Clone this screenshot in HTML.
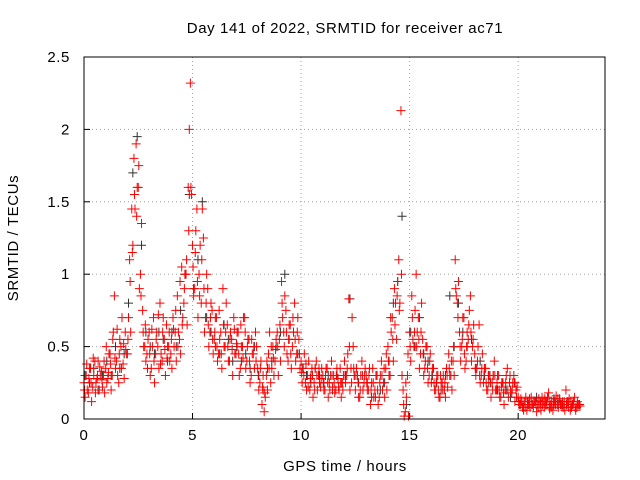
<!DOCTYPE html>
<html><head><meta charset="utf-8"><style>
body{margin:0;background:#fff;}
svg{display:block;font-family:"Liberation Sans",sans-serif;}
svg text{letter-spacing:0.6px;}
</style></head><body>
<svg id="chart" width="640" height="480">
<text x="345" y="33" font-size="15" text-anchor="middle">Day 141 of 2022, SRMTID for receiver ac71</text>
<text x="345" y="471" font-size="15" text-anchor="middle">GPS time / hours</text>
<text transform="translate(18,238) rotate(-90)" font-size="15" text-anchor="middle">SRMTID / TECUs</text>
<g id="grid"></g>
<g id="ticks"></g>
<g id="marks"></g>
<rect x="84" y="57" width="521" height="362" fill="none" stroke="#000" stroke-width="1"/>
</svg>
<script>
const xTicks=[0,5,10,15,20];
const yTicks=[0,0.5,1,1.5,2,2.5];
const yTickLabels=["0","0.5","1","1.5","2","2.5"];
const tStep=0.1;
const redA=[.25,.3,.18,.35,.22,.4,.28,.2,.33,.3, .35,.28,.45,.3,.85,.4,.25,.5,.38,.6, .45,1.1,1.45,1.8,1.9,1.6,1.0,.75,.5,.45, .6,.35,.7,.45,.5,.8,.4,.55,.65,.5, .45,.7,.6,.85,.55,1.05,.8,1.0,1.6,2.32, 1.2,.9,1.45,1.0,.8,1.25,.7,.9,.6,.75, .55,.7,.45,.6,.9,.5,.65,.4,.55,.7, .45,.6,.35,.5,.7,.4,.55,.3,.45,.6, .35,.25,.1,.05,.3,.45,.25,.5,.4,.6, .55,.95,.6,.75,.4,.65,.5,.8,.45,.55, .4,.35,.25,.3,.2,.35,.25,.4,.3,.22, .3,.2,.35,.25,.4,.3,.2,.28,.35,.25, .4,.3,.83,.35,.5,.2,.3,.15,.4,.25, .3,.2,.1,.35,.2,.3,.15,.4,.25,.35, .5,.3,.7,.9,.55,1.1,2.13,.2,.05,.3, .6,.85,.5,1.0,.7,.45,.55,.35,.5,.3, .25,.35,.2,.3,.15,.25,.2,.35,.45,.3, .4,1.1,.8,.6,.5,.7,.4,.55,.85,.5, .45,.35,.65,.3,.25,.35,.2,.3,.25,.4, .2,.3,.15,.25,.2,.35,.25,.18,.3,.2, .15,.1,.08,.12,.06,.1,.15,.08,.12,.1, .1,.15,.08,.12,.18,.1,.06,.12,.1,.14, .1,.08,.2,.12,.06,.1,.15,.08,.1];
const redB=[.15,.2,.35,.12,.3,.25,.4,.3,.22,.18, .25,.45,.2,.6,.35,.3,.55,.7,.28,.45, .7,.6,1.2,1.45,1.6,.9,1.35,.5,.4,.55, .3,.5,.25,.6,.35,.45,.7,.3,.5,.4, .35,.5,.4,.6,.45,.7,1.0,.65,2.0,1.55, .85,1.3,.7,1.2,1.45,.6,1.0,.5,.8,.45, .7,.4,.55,.35,.5,.8,.4,.6,.3,.45, .6,.3,.5,.7,.35,.55,.25,.45,.35,.5, .2,.4,.3,.15,.2,.6,.35,.3,.55,.3, .4,.7,.85,.45,.65,.35,.6,.4,.7,.35, .25,.45,.2,.4,.3,.15,.35,.2,.25,.35, .2,.35,.15,.3,.22,.18,.35,.2,.15,.3, .25,.45,.2,.7,.3,.35,.15,.3,.2,.35, .2,.35,.25,.15,.3,.1,.3,.2,.15,.2, .3,.6,.4,.8,.95,.8,.3,.02,.15,.02, .4,.55,.75,.6,.35,.8,.3,.5,.25,.45, .35,.2,.3,.15,.25,.3,.15,.22,.3,.2, .3,.85,.95,.4,.7,.35,.6,.75,.4,.65, .3,.5,.25,.45,.35,.2,.3,.15,.3,.2, .3,.15,.25,.1,.3,.15,.2,.25,.12,.22, .1,.12,.06,.15,.1,.08,.1,.12,.05,.14, .06,.12,.1,.15,.07,.12,.1,.16,.08,.1, .12,.06,.1,.14,.08,.12,.06,.1,.09];
const redC=[.2,.38,.28,.25,.42,.18,.3,.36,.27,.4, .5,.32,.38,.55,.42,.62,.45,.35,.52,.48, .55,.95,1.15,1.55,1.4,1.75,.85,.6,.65,.35, .45,.62,.4,.55,.72,.38,.6,.48,.42,.6, .55,.62,.75,.5,.95,.65,.9,1.1,1.3,1.6, 1.05,1.15,.95,.85,1.1,.9,.8,.65,.7,.55, .6,.5,.75,.45,.65,.6,.5,.55,.48,.62, .52,.45,.65,.42,.6,.5,.4,.55,.5,.4, .3,.35,.22,.18,.4,.35,.5,.42,.48,.5, .65,.8,.5,.6,.55,.45,.7,.55,.6,.45, .32,.3,.38,.22,.28,.3,.2,.3,.35,.28, .25,.3,.25,.2,.3,.25,.3,.22,.25,.2, .3,.35,.5,.25,.35,.3,.25,.2,.3,.3, .25,.3,.2,.25,.15,.2,.25,.3,.35,.45, .4,.7,.55,.65,.85,.75,1.0,.1,.25,.45, .5,.7,.6,.5,.55,.6,.45,.4,.35,.4, .3,.25,.25,.2,.3,.2,.25,.3,.35,.4, .5,.9,.7,.5,.55,.45,.5,.65,.6,.55, .35,.4,.3,.35,.3,.25,.3,.25,.2,.3, .25,.2,.22,.18,.25,.2,.3,.2,.25,.15, .12,.14,.1,.08,.12,.14,.1,.12,.1,.08, .12,.1,.14,.1,.12,.08,.12,.1,.14,.12, .08,.12,.1,.08,.12,.1,.08,.12,.1];
const blackStep=0.2;
const blackV=[.3,.25,.35,.2,.3, .4,.3,.5,.35,.45, .8,1.7,1.95,1.2,.6, .5,.45,.6,.55,.4, .6,.5,.75,1.0,1.55, .9,1.1,1.5,.7,.6, .5,.45,.65,.55,.4, .5,.4,.45,.35,.5, .3,.2,.35,.4,.5, .6,1.0,.55,.6,.45, .35,.3,.25,.35,.3, .25,.3,.2,.3,.25, .3,.83,.3,.25,.2, .25,.15,.3,.2,.25, .4,.8,.95,1.4,.1, .6,.5,.7,.45,.4, .3,.25,.2,.3,.85, .5,.8,.6,.5,.55, .35,.4,.3,.25,.3, .2,.25,.2,.15,.25, .1,.08,.12,.1,.15, .1,.12,.08,.14,.1, .1,.12,.08];
const X0=84,X1=605,XMAX=24,Y0=419,Y1=57,YMAX=2.5;
function xs(v){return X0+(v/XMAX)*(X1-X0);}
function ys(v){return Y0-(v/YMAX)*(Y0-Y1);}
const NS="http://www.w3.org/2000/svg";
const grid=document.getElementById('grid'),ticks=document.getElementById('ticks'),marks=document.getElementById('marks');
function ln(p,x1,y1,x2,y2,st,dash){const l=document.createElementNS(NS,'line');l.setAttribute('x1',x1);l.setAttribute('y1',y1);l.setAttribute('x2',x2);l.setAttribute('y2',y2);l.setAttribute('stroke',st);if(dash)l.setAttribute('stroke-dasharray',dash);p.appendChild(l);return l;}
function tx(p,x,y,s,anc){const t=document.createElementNS(NS,'text');t.setAttribute('x',x);t.setAttribute('y',y);t.setAttribute('font-size','15');t.setAttribute('text-anchor',anc);t.setAttribute('fill','#000');t.textContent=s;p.appendChild(t);return t;}
xTicks.forEach(v=>{const x=xs(v);
 if(v>0){const g=ln(grid,x,Y1,x,Y0,'#a0a0a0','1,3');}
 const k=ln(ticks,x,Y0,x,Y0-6,'#000');
 const t=tx(ticks,x,Y0+21,String(v),'middle');});
yTicks.forEach((v,i)=>{const y=ys(v);
 if(v>0&&v<YMAX){const g=ln(grid,X0,y,X1,y,'#a0a0a0','1,3');}
 const k=ln(ticks,X0,y,X0+6,y,'#000');
 const t=tx(ticks,X0-14,y+5,yTickLabels[i],'end');});
function plus(t,v,col,name){const x=xs(t),y=ys(v);const g=document.createElementNS(NS,'path');
 g.setAttribute('d',`M${x-4.5} ${y}H${x+4.5}M${x} ${y-4.5}V${y+4.5}`);g.setAttribute('stroke',col);g.setAttribute('fill','none');
 
 
 marks.appendChild(g);}
blackV.forEach((v,i)=>plus(i*blackStep+0.05,v,'#333','black-point'));
redA.forEach((v,i)=>plus(i*tStep,v,'#ff0000','red-point'));
redB.forEach((v,i)=>plus(i*tStep+0.05,v,'#ff0000','red-point'));
redC.forEach((v,i)=>plus(i*tStep+0.025,v,'#ff0000','red-point'));
</script>
</body></html>
